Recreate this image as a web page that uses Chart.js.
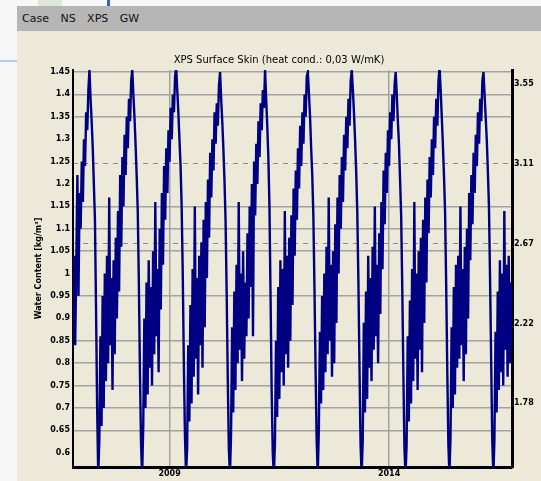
<!DOCTYPE html>
<html lang="en">
<head>
    <meta charset="UTF-8">
    <title>XPS Surface Skin</title>
    <script src="https://cdn.jsdelivr.net/npm/chart.js"></script>
    <style>
        body { margin: 0; width: 541px; height: 481px; background: #f7f7f7; position: relative; overflow: hidden; font-family: "DejaVu Sans", sans-serif; }
        .win { position: absolute; left: 17px; top: 6px; width: 524px; height: 475px; background: #ece9d8; }
        .bar { position: absolute; left: 0; top: 0; width: 524px; height: 25px; background: #b6b6b6; }
        .bar span { position: absolute; left: 5px; top: 6px; font-size: 11px; color: #111; word-spacing: 8px; white-space: pre; }
        .chartbox { position: absolute; left: 0; top: 24px; width: 524px; height: 451px; }
        .blue { position: absolute; left: 107px; top: 0; width: 3px; height: 6px; background: #3a5cc8; }
        .green { position: absolute; left: 38px; top: 0; width: 24px; height: 6px; background: #dde8d6; }
        .line { position: absolute; left: 0; top: 60px; width: 17px; height: 2px; background: #b9c9ee; }
    </style>
</head>
<body>
    <div class="green"></div>
    <div class="blue"></div>
    <div class="line"></div>
    <div class="win">
        <div class="bar"><span>Case NS XPS GW</span></div>
        <div class="chartbox"><canvas id="wcChart"></canvas></div>
    </div>

    <script>
        // water content, one value every ~9 days (40 per year), starting Oct 2006
        var startYear = 2006.8;
        var perYear = 40;

        var wc0607 = [0.86, 1.04, 0.84, 1.02, 1.22, 0.95, 1.18, 1.10, 1.25, 1.16, 1.30, 1.24, 1.36, 1.32, 1.41, 1.455, 1.39, 1.34, 1.28, 1.20, 1.12, 0.92, 0.70];
        var wc2007 = [0.55, 0.63, 0.86, 0.66, 0.95, 0.70, 1.00, 0.76, 1.04, 0.80, 1.17, 0.84, 0.99, 0.74, 1.03, 0.82, 1.08, 0.90, 1.14, 0.96, 1.22, 1.06, 1.26, 1.15, 1.31, 1.22, 1.35, 1.28, 1.39, 1.34, 1.43, 1.455, 1.40, 1.35, 1.29, 1.22, 1.14, 0.98, 0.78, 0.62];
        var wc2008 = [0.55, 0.66, 0.90, 0.70, 0.98, 0.73, 1.03, 0.79, 0.97, 0.75, 1.05, 0.82, 1.16, 0.86, 1.01, 0.78, 1.10, 0.92, 1.18, 1.02, 1.24, 1.12, 1.28, 1.18, 1.32, 1.25, 1.37, 1.30, 1.40, 1.36, 1.44, 1.46, 1.41, 1.36, 1.30, 1.24, 1.15, 1.00, 0.80, 0.64];
        var wc2009 = [0.55, 0.61, 0.84, 0.67, 0.93, 0.71, 1.01, 0.77, 1.15, 0.81, 0.99, 0.73, 1.04, 0.84, 1.07, 0.79, 1.12, 0.88, 1.16, 0.99, 1.21, 1.08, 1.27, 1.17, 1.30, 1.23, 1.36, 1.29, 1.38, 1.33, 1.42, 1.45, 1.39, 1.34, 1.28, 1.21, 1.12, 0.96, 0.77, 0.61];
        var wc2010 = [0.55, 0.64, 0.88, 0.69, 0.96, 0.74, 1.02, 0.80, 1.16, 0.83, 1.00, 0.76, 1.05, 0.81, 0.98, 0.86, 1.09, 0.90, 1.15, 0.97, 1.20, 0.86, 1.25, 1.13, 1.29, 1.20, 1.34, 1.26, 1.38, 1.32, 1.41, 1.37, 1.455, 1.39, 1.33, 1.26, 1.15, 0.95, 0.74, 0.60];
        var wc2011 = [0.55, 0.62, 0.85, 0.68, 0.97, 0.72, 1.03, 0.78, 1.01, 0.75, 1.14, 0.82, 1.04, 0.79, 1.08, 0.85, 1.13, 0.93, 1.19, 1.04, 1.23, 1.12, 1.28, 1.19, 1.33, 1.24, 1.36, 1.29, 1.40, 1.35, 1.44, 1.45, 1.40, 1.35, 1.28, 1.22, 1.13, 0.97, 0.79, 0.63];
        var wc2012 = [0.55, 0.65, 0.87, 0.71, 0.95, 0.74, 1.00, 0.78, 1.06, 0.82, 1.17, 0.85, 1.02, 0.77, 1.05, 0.80, 1.11, 0.89, 1.17, 1.00, 1.22, 1.10, 1.26, 1.16, 1.31, 1.23, 1.35, 1.28, 1.39, 1.33, 1.43, 1.455, 1.41, 1.36, 1.30, 1.23, 1.14, 0.99, 0.80, 0.62];
        var wc2013 = [0.55, 0.63, 0.89, 0.69, 0.96, 0.72, 1.04, 0.79, 0.99, 0.76, 1.06, 0.83, 1.15, 0.86, 1.02, 0.80, 1.09, 0.91, 1.16, 1.01, 1.23, 1.11, 1.27, 1.18, 1.32, 1.24, 1.36, 1.30, 1.40, 1.34, 1.42, 1.45, 1.40, 1.34, 1.29, 1.21, 1.13, 0.97, 0.78, 0.61];
        var wc2014 = [0.55, 0.62, 0.86, 0.67, 0.94, 0.71, 1.01, 0.76, 1.16, 0.81, 1.00, 0.74, 1.05, 0.83, 1.08, 0.78, 1.12, 0.89, 1.17, 0.98, 1.21, 1.09, 1.26, 1.17, 1.30, 1.22, 1.35, 1.28, 1.39, 1.33, 1.43, 1.46, 1.41, 1.35, 1.29, 1.22, 1.14, 0.98, 0.79, 0.62];
        var wc2015 = [0.55, 0.64, 0.88, 0.70, 0.97, 0.73, 1.02, 0.79, 1.04, 0.81, 1.15, 0.84, 1.01, 0.76, 1.06, 0.82, 1.10, 0.90, 1.18, 1.03, 1.22, 1.11, 1.27, 1.18, 1.31, 1.24, 1.36, 1.29, 1.39, 1.34, 1.43, 1.45, 1.40, 1.35, 1.30, 1.23, 1.15, 0.99, 0.81, 0.63];
        var wc2016 = [0.55, 0.63, 0.87, 0.69, 0.96, 0.74, 1.03, 0.78, 1.00, 0.75, 1.14, 0.83, 1.02, 0.77, 1.04, 0.80, 0.98, 0.84];

        var yearTicks = [2009, 2014];
        var leftTicks = [1.45, 1.4, 1.35, 1.3, 1.25, 1.2, 1.15, 1.1, 1.05, 1, 0.95, 0.9, 0.85, 0.8, 0.75, 0.7, 0.65, 0.6];
        var leftTickLabels = ['1.45', '1.4', '1.35', '1.3', '1.25', '1.2', '1.15', '1.1', '1.05', '1', '0.95', '0.9', '0.85', '0.8', '0.75', '0.7', '0.65', '0.6'];
        var leftGridLabels = ['1.45', '1.4', '1.35', '1.15', '1.1', '1.05', '0.95', '0.85', '0.8', '0.75', '0.7', '0.65'];
        var rightTicks = [3.555, 3.111, 2.667, 2.222, 1.778];
        var rightTickLabels = ['3.55', '3.11', '2.67', '2.22', '1.78'];
        var rightGridLabels = ['3.11', '2.67'];

        var seasons = [wc0607, wc2007, wc2008, wc2009, wc2010, wc2011, wc2012, wc2013, wc2014, wc2015, wc2016];
        var values = [].concat.apply([], seasons);
        var points = values.map(function (v, i) {
            return { x: startYear + i / perYear, y: v };
        });

        var tickFont = { family: 'DejaVu Sans', size: 8, weight: 'bold' };

        var config = {
            type: 'line',
            data: {
                datasets: [{
                    data: points,
                    borderColor: '#000082',
                    borderWidth: 2.4,
                    pointRadius: 0,
                    tension: 0,
                    yAxisID: 'y'
                }]
            },
            options: {
                responsive: true,
                maintainAspectRatio: false,
                animation: false,
                events: [],
                layout: { padding: 0 },
                plugins: {
                    legend: { display: false },
                    tooltip: { enabled: false },
                    title: {
                        display: true,
                        text: 'XPS Surface Skin (heat cond.: 0,03 W/mK)',
                        color: '#000',
                        font: { family: 'DejaVu Sans', size: 10, weight: 'normal' },
                        padding: { top: 24, bottom: 4 }
                    }
                },
                scales: {
                    x: {
                        type: 'linear',
                        min: 2006.8,
                        max: 2016.8,
                        afterBuildTicks: function (s) {
                            s.ticks = yearTicks.map(function (v) { return { value: v }; });
                        },
                        afterFit: function (s) { s.height = 14; },
                        ticks: {
                            autoSkip: false,
                            maxRotation: 0,
                            padding: 2,
                            color: '#000',
                            font: tickFont,
                            callback: function (v) { return String(v); }
                        },
                        grid: { color: '#a2a2a2', lineWidth: 1.5, drawTicks: false },
                        border: { color: '#000', width: 3 }
                    },
                    y: {
                        position: 'left',
                        min: 0.5683,
                        max: 1.4545,
                        afterBuildTicks: function (s) {
                            s.ticks = leftTicks.map(function (v) { return { value: v }; });
                        },
                        afterFit: function (s) { s.width = 56; },
                        ticks: {
                            autoSkip: false,
                            padding: 3,
                            color: '#000',
                            font: tickFont,
                            callback: function (v, i) { return leftTickLabels[i]; }
                        },
                        grid: {
                            drawTicks: false,
                            lineWidth: 1.5,
                            color: function (ctx) {
                                return leftGridLabels.indexOf(leftTickLabels[ctx.index]) >= 0 ? '#a2a2a2' : 'rgba(0,0,0,0)';
                            }
                        },
                        border: { color: '#000', width: 2 },
                        title: {
                            display: true,
                            text: 'Water Content [kg/m³]',
                            color: '#000',
                            font: { family: 'DejaVu Sans', size: 8, weight: 'bold' },
                            padding: { top: 17, bottom: 0 }
                        }
                    },
                    y2: {
                        position: 'right',
                        min: 1.4238,
                        max: 3.6335,
                        afterBuildTicks: function (s) {
                            s.ticks = rightTicks.map(function (v) { return { value: v }; });
                        },
                        afterFit: function (s) { s.width = 29; },
                        ticks: {
                            autoSkip: false,
                            padding: 2,
                            color: '#000',
                            font: tickFont,
                            callback: function (v, i) { return rightTickLabels[i]; }
                        },
                        grid: {
                            drawTicks: false,
                            lineWidth: 1,
                            color: function (ctx) {
                                return rightGridLabels.indexOf(rightTickLabels[ctx.index]) >= 0 ? '#8a8a8a' : 'rgba(0,0,0,0)';
                            }
                        },
                        border: { color: '#000', width: 3, dash: [5, 5] }
                    }
                }
            }
        };

        var ctx = document.getElementById('wcChart').getContext('2d');
        var wcChart = new Chart(ctx, config);
    </script>
</body>
</html>
